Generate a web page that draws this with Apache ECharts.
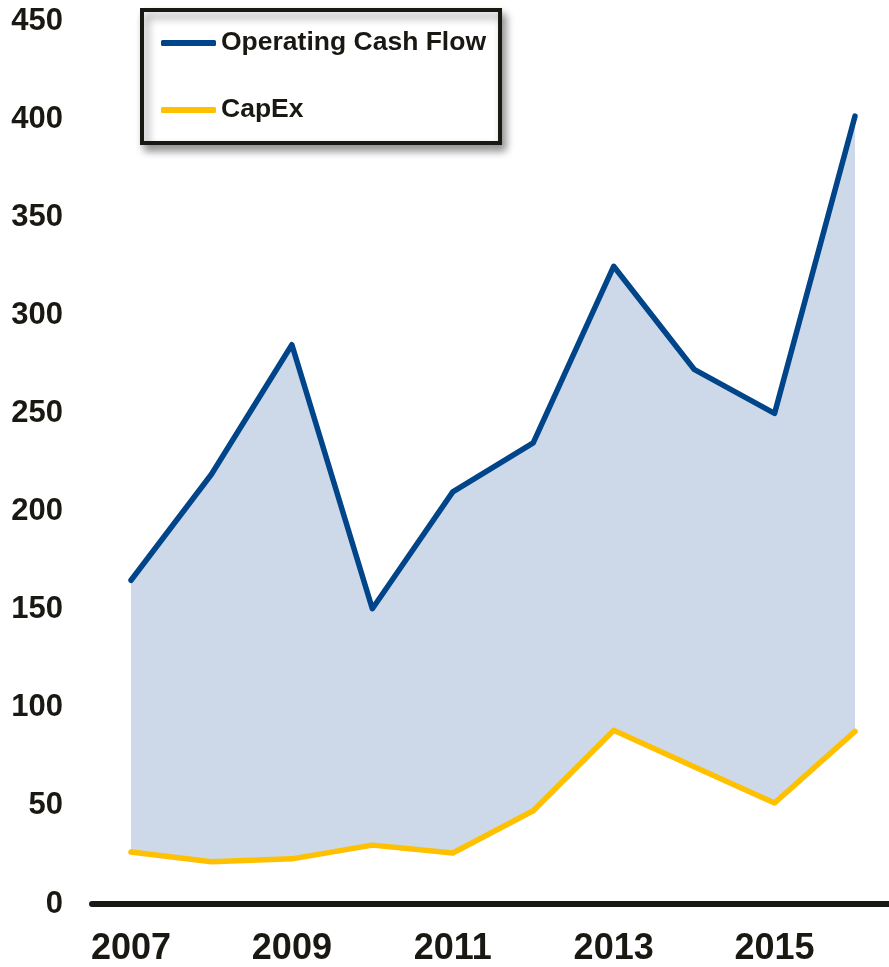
<!DOCTYPE html>
<html>
<head>
<meta charset="utf-8">
<script src="https://cdn.jsdelivr.net/npm/echarts@6/dist/echarts.min.js"></script>
<style>
html,body{margin:0;padding:0;background:#fff;}
#chart{width:889px;height:967px;}
</style>
</head>
<body>
<div id="chart"></div>
<script>
const years = [2007, 2008, 2009, 2010, 2011, 2012, 2013, 2014, 2015, 2016];
const operatingCashFlow = [165, 219, 285, 150.5, 210, 235, 325, 272.5, 250, 401.5];
const capex = [26.5, 21.5, 23, 30, 26, 47.5, 88.5, 70, 51.5, 88];
const xLabelYears = [2007, 2009, 2011, 2013, 2015];
const yTicks = [0, 50, 100, 150, 200, 250, 300, 350, 400, 450];

const textColor = '#1a1812';
const fontFamily = 'Liberation Sans, Arial, sans-serif';

const ocfData = years.map((y, i) => [y, operatingCashFlow[i]]);
const capexData = years.map((y, i) => [y, capex[i]]);

const chart = echarts.init(document.getElementById('chart'), null, {renderer: 'canvas'});
chart.setOption({
  animation: false,
  backgroundColor: '#fff',
  grid: {left: 92, right: 0, top: 21, bottom: 60, containLabel: false},
  xAxis: {
    type: 'value',
    min: 2006.515,
    max: 2016.423,
    z: 10,
    axisLine: {show: true, lineStyle: {color: textColor, width: 6}},
    axisTick: {show: false},
    splitLine: {show: false},
    axisLabel: {
      customValues: xLabelYears,
      color: textColor,
      fontSize: 36,
      fontWeight: 'bold',
      fontFamily: fontFamily,
      margin: 27,
      formatter: v => String(v)
    }
  },
  yAxis: {
    type: 'value',
    min: 0,
    max: 450,
    interval: 50,
    axisLine: {show: false},
    axisTick: {show: false},
    splitLine: {show: false},
    axisLabel: {
      customValues: yTicks,
      color: textColor,
      fontSize: 31,
      fontWeight: 'bold',
      fontFamily: fontFamily,
      margin: 29
    }
  },
  legend: {
    left: 142,
    top: 10,
    orient: 'vertical',
    data: ['Operating Cash Flow', 'CapEx'],
    icon: 'roundRect',
    itemWidth: 55,
    itemHeight: 6,
    itemGap: 37,
    padding: [18, 14, 18, 19],
    backgroundColor: '#fff',
    borderColor: textColor,
    borderWidth: 4,
    shadowColor: 'rgba(0,0,0,0.4)',
    shadowBlur: 8,
    shadowOffsetX: 4,
    shadowOffsetY: 6,
    textStyle: {
      color: textColor,
      fontSize: 26.5,
      fontWeight: 'bold',
      fontFamily: fontFamily,
      lineHeight: 30
    },
    selectedMode: false
  },
  series: [
    {
      name: 'Operating Cash Flow',
      type: 'line',
      data: ocfData,
      symbol: 'none',
      z: 2,
      lineStyle: {color: '#004489', width: 5.5, cap: 'round', join: 'round'},
      itemStyle: {color: '#004489'},
      areaStyle: {color: '#cdd8e9', opacity: 1}
    },
    {
      name: 'CapEx',
      type: 'line',
      data: capexData,
      symbol: 'none',
      z: 3,
      lineStyle: {color: '#ffc000', width: 5.5, cap: 'round', join: 'round'},
      itemStyle: {color: '#ffc000'},
      areaStyle: {color: '#ffffff', opacity: 1}
    }
  ]
});
</script>
</body>
</html>
